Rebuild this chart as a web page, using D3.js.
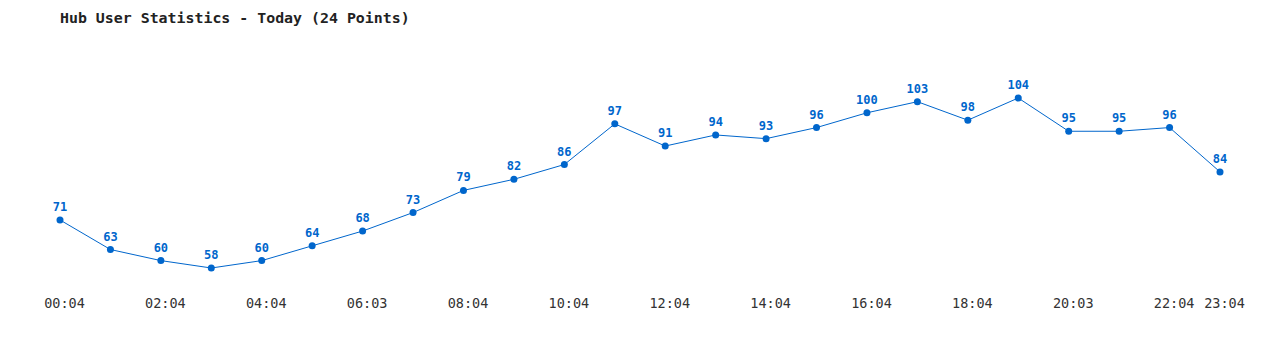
<!DOCTYPE html>
<html>
<head>
<meta charset="utf-8">
<script src="https://cdn.jsdelivr.net/npm/d3@7"></script>
<style>
  body { margin: 0; background: #fff; }
</style>
</head>
<body>
<div id="chart"></div>
<script>
const times = ["00:04","01:04","02:04","03:04","04:04","05:04","06:03","07:04","08:04","09:04","10:04","11:04",
               "12:04","13:04","14:04","15:04","16:04","17:04","18:04","19:04","20:03","21:04","22:04","23:04"];
const users = [71, 63, 60, 58, 60, 64, 68, 73, 79, 82, 86, 97, 91, 94, 93, 96, 100, 103, 98, 104, 95, 95, 96, 84];
const tickIdx = [0, 2, 4, 6, 8, 10, 12, 14, 16, 18, 20, 22, 23];

const fullWidth = 1280, fullHeight = 350;
const color = "#0066cc";
const font = "'DejaVu Sans Mono', 'Liberation Mono', monospace";

const svg = d3.select("#chart").append("svg")
  .attr("width", fullWidth)
  .attr("height", fullHeight)
  .style("font-family", font);

const x = d3.scalePoint()
  .domain(times)
  .range([60, 1220]);

const y = d3.scaleLinear()
  .domain([d3.min(users), d3.max(users)])
  .range([268, 98]);

// === Title ===
svg.append("text")
  .attr("x", 60)
  .attr("y", 23)
  .style("font-size", "14.9px")
  .style("font-weight", "bold")
  .style("fill", "#222")
  .text("Hub User Statistics - Today (24 Points)");

// === X Axis (labels only) ===
const xAxis = svg.append("g")
  .attr("transform", "translate(4,308)")
  .call(d3.axisBottom(x).tickValues(tickIdx.map(i => times[i])).tickSize(0).tickPadding(0));
xAxis.select(".domain").remove();
xAxis.selectAll("text")
  .attr("dy", null)
  .attr("y", 0)
  .style("font-family", font)
  .style("font-size", "13.5px")
  .style("fill", "#333");

// === Line ===
const data = times.map((t, i) => ({ t, v: users[i] }));
svg.append("path")
  .datum(data)
  .attr("fill", "none")
  .attr("stroke", color)
  .attr("stroke-width", 1)
  .attr("d", d3.line().x(d => x(d.t)).y(d => y(d.v)));

// === Points ===
svg.selectAll("circle")
  .data(data)
  .enter()
  .append("circle")
  .attr("cx", d => x(d.t))
  .attr("cy", d => y(d.v))
  .attr("r", 3.5)
  .attr("fill", color);

// === Value Labels ===
svg.selectAll("text.value")
  .data(data)
  .enter()
  .append("text")
  .attr("class", "value")
  .attr("x", d => x(d.t))
  .attr("y", d => y(d.v) - 9)
  .attr("text-anchor", "middle")
  .style("font-size", "12px")
  .style("font-weight", "bold")
  .style("fill", color)
  .text(d => d.v);
</script>
</body>
</html>
